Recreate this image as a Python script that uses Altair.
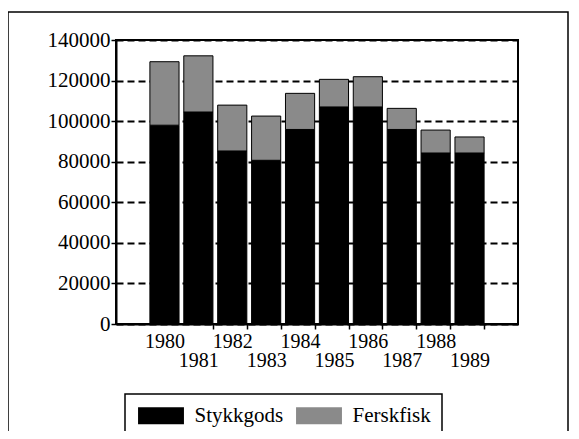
import altair as alt
import pandas as pd

years = ["1980", "1981", "1982", "1983", "1984", "1985", "1986", "1987", "1988", "1989"]
stykkgods = [98000, 104500, 85300, 80700, 95900, 107000, 107000, 95900, 84300, 84300]
ferskfisk = [31300, 27700, 22600, 21800, 17800, 13600, 14900, 10400, 11300, 7900]
series = ["Stykkgods", "Ferskfisk"]
colors = ["#000000", "#8a8a8a"]
y_ticks = [0, 20000, 40000, 60000, 80000, 100000, 120000, 140000]

rows = []
for i, yr in enumerate(years):
    rows.append({"year": yr, "series": series[0], "value": stykkgods[i], "ord": 0})
    rows.append({"year": yr, "series": series[1], "value": ferskfisk[i], "ord": 1})
df = pd.DataFrame(rows)

FONT = "Liberation Serif"

bars = alt.Chart(df).mark_bar(stroke="black", strokeWidth=1).encode(
    x=alt.X(
        "year:O",
        sort=years,
        scale=alt.Scale(paddingInner=0.14, paddingOuter=1),
        axis=alt.Axis(
            title=None,
            labelAngle=0,
            labelFont=FONT,
            labelFontSize=20,
            labelColor="black",
            labelLineHeight=19,
            labelBaseline="top",
            labelPadding=2,
            labelOverlap=False,
            labelExpr="toNumber(datum.value) % 2 == 0 ? datum.label : ['', datum.label]",
            tickBand="extent",
            tickColor="black",
            tickWidth=1.5,
            tickSize=5,
            tickOpacity={"condition": {"test": "datum.value == '1980' || datum.extra", "value": 0}, "value": 1},
            domainColor="black",
            domainWidth=2,
        ),
    ),
    y=alt.Y(
        "value:Q",
        stack="zero",
        scale=alt.Scale(domain=[0, 140000], nice=False),
        axis=alt.Axis(
            title=None,
            values=y_ticks,
            format="d",
            labelFont=FONT,
            labelFontSize=21,
            labelColor="black",
            labelPadding=1,
            tickColor="black",
            tickWidth=1.5,
            tickSize=5,
            domainColor="black",
            domainWidth=2,
            grid=True,
            gridColor="black",
            gridWidth=2,
            gridDash=[7, 4],
        ),
    ),
    color=alt.Color(
        "series:N",
        scale=alt.Scale(domain=series, range=colors),
        legend=alt.Legend(
            title=None,
            orient="none",
            legendX=9,
            legendY=354,
            direction="horizontal",
            symbolType="M-2.7,-1H2.7V1H-2.7Z",
            symbolSize=289,
            symbolOffset=14.5,
            symbolStrokeWidth=0,
            labelFont=FONT,
            labelFontSize=21,
            labelColor="black",
            labelOffset=23,
            labelExpr="datum.label == 'Ferskfisk' ? datum.label + '\u00a0\u00a0\u00a0\u00a0\u00a0' : datum.label",
            columnPadding=10,
            padding=11,
            strokeColor="black",
            fillColor="white",
        ),
    ),
    order=alt.Order("ord:Q"),
)

frame = alt.Chart(pd.DataFrame({"f": [0]})).mark_rect(
    fill=None, stroke="black", strokeWidth=1.5
).encode(
    x=alt.value(-108),
    x2=alt.value(452),
    y=alt.value(-28),
    y2=alt.value(420),
)

chart = alt.layer(frame, bars).properties(
    width=402,
    height=284,
    autosize=alt.AutoSizeParams(type="none"),
    padding={"left": 108, "top": 32, "right": 53, "bottom": 107},
    background="white",
).configure_view(
    stroke="black", strokeWidth=2
).configure_legend(
    strokeWidth=1.5
)

chart.save("out.html", embed_options={"renderer": "svg", "actions": False})
